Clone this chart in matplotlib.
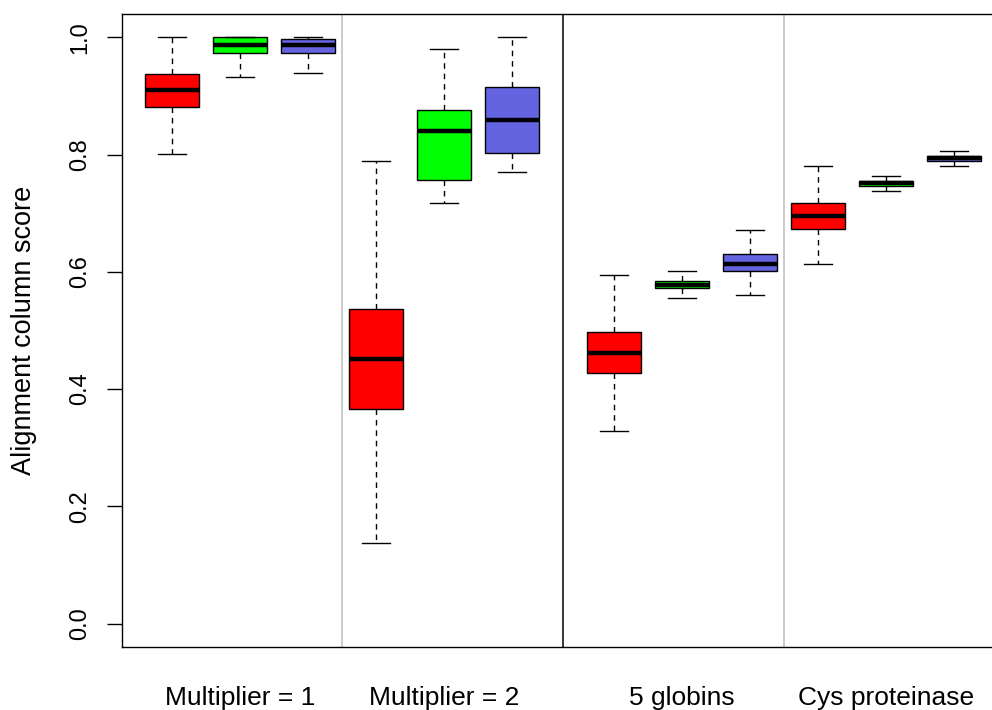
import matplotlib
matplotlib.use("Agg")
import matplotlib.pyplot as plt

plt.rcParams['font.family'] = ['Liberation Sans', 'DejaVu Sans']

# groups of three boxes each (red, green, blue)
groups = ["Multiplier = 1", "Multiplier = 2", "5 globins", "Cys proteinase"]
positions = [1, 2, 3, 4, 5, 6, 7.5, 8.5, 9.5, 10.5, 11.5, 12.5]
box_colors = ["#FF0000", "#00FF00", "#6464E0"] * 4

whis_lo = [0.801, 0.932, 0.939, 0.137, 0.718, 0.770, 0.329, 0.555, 0.561, 0.614, 0.738, 0.781]
q1      = [0.881, 0.973, 0.974, 0.366, 0.756, 0.803, 0.428, 0.572, 0.601, 0.673, 0.747, 0.789]
median  = [0.911, 0.987, 0.987, 0.451, 0.840, 0.860, 0.462, 0.578, 0.613, 0.695, 0.751, 0.794]
q3      = [0.937, 1.000, 0.998, 0.537, 0.877, 0.915, 0.497, 0.584, 0.630, 0.717, 0.755, 0.798]
whis_hi = [1.000, 1.000, 1.000, 0.790, 0.980, 1.000, 0.595, 0.601, 0.671, 0.781, 0.764, 0.806]

label_pos = [2, 5, 8.5, 11.5]
separators = [3.5, 6.75, 10]
sep_colors = ["#BEBEBE", "black", "#BEBEBE"]

stats = []
for i in range(len(positions)):
    stats.append(dict(whislo=whis_lo[i], q1=q1[i], med=median[i], q3=q3[i],
                      whishi=whis_hi[i], fliers=[]))

fig = plt.figure(figsize=(9.92, 7.10), dpi=100)
ax = fig.add_axes([122/992, 63/710, 870/992, 633/710])

for x, c in zip(separators, sep_colors):
    ax.axvline(x, color=c, lw=1.1, zorder=1)

bp = ax.bxp(stats, positions=positions, widths=0.8, patch_artist=True,
            showfliers=False, manage_ticks=False,
            boxprops=dict(edgecolor="black", linewidth=1.0),
            medianprops=dict(color="black", linewidth=3.2, solid_capstyle="butt"),
            whiskerprops=dict(color="black", linewidth=1.0, linestyle=(0, (4, 3.5))),
            capprops=dict(color="black", linewidth=1.0),
            capwidths=0.4)
for patch, c in zip(bp["boxes"], box_colors):
    patch.set_facecolor(c)
    patch.set_zorder(2)

ax.set_xlim(1 + (122 - 172) / 68, 1 + (992 - 172) / 68)
ax.set_ylim(-0.04, 1.04)

ax.spines['right'].set_visible(False)
for s in ['left', 'top', 'bottom']:
    ax.spines[s].set_linewidth(1.0)

ax.set_yticks([0.0, 0.2, 0.4, 0.6, 0.8, 1.0])
ax.set_yticklabels(["0.0", "0.2", "0.4", "0.6", "0.8", "1.0"], rotation=90, va="center")
ax.tick_params(axis='y', direction='out', length=10.5, width=1.0, pad=12, labelsize=17)

ax.set_xticks(label_pos)
ax.set_xticklabels(groups)
ax.tick_params(axis='x', length=0, pad=28, labelsize=19)

ax.set_ylabel("Alignment column score", fontsize=19.5)
ax.yaxis.set_label_coords(-(122 - 37) / 870, 0.5)

fig.savefig("out.png", dpi=100)
